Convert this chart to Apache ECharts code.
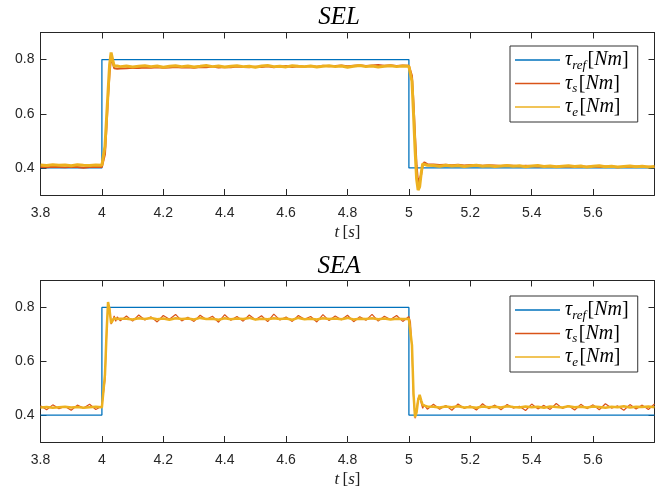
<!DOCTYPE html>
<html>
<head>
<meta charset="utf-8">
<script src="https://cdn.jsdelivr.net/npm/echarts@6/dist/echarts.min.js"></script>
<style>html,body{margin:0;padding:0;background:#fff}#c{width:661px;height:489px}</style>
</head>
<body>
<div id="c"></div>
<script>
// ---- data ----
var titles = ['SEL', 'SEA'];
var seriesNames = ['τref', 'τs', 'τe'];
var xTicks = [3.8, 4.0, 4.2, 4.4, 4.6, 4.8, 5.0, 5.2, 5.4, 5.6];
var yTicks = [0.4, 0.6, 0.8];

var tRef = [3.8, 4.0, 4.0, 5.0, 5.0, 5.8];
var ref = [0.4, 0.4, 0.8, 0.8, 0.4, 0.4];

var t = [3.80,3.82,3.84,3.86,3.88,3.90,3.92,3.94,3.96,3.98,4.00,
  4.005,4.010,4.015,4.020,4.025,4.030,4.035,4.040,4.045,4.050,4.060,
  4.08,4.10,4.12,4.14,4.16,4.18,4.20,4.22,4.24,4.26,
  4.28,4.30,4.32,4.34,4.36,4.38,4.40,4.42,4.44,4.46,
  4.48,4.50,4.52,4.54,4.56,4.58,4.60,4.62,4.64,4.66,
  4.68,4.70,4.72,4.74,4.76,4.78,4.80,4.82,4.84,4.86,
  4.88,4.90,4.92,4.94,4.96,4.98,
  5.00,5.005,5.010,5.015,5.020,5.025,5.030,5.035,5.040,5.045,5.050,5.060,
  5.08,5.10,5.12,5.14,5.16,5.18,5.20,5.22,5.24,5.26,
  5.28,5.30,5.32,5.34,5.36,5.38,5.40,5.42,5.44,5.46,
  5.48,5.50,5.52,5.54,5.56,5.58,5.60,5.62,5.64,5.66,
  5.68,5.70,5.72,5.74,5.76,5.78,5.80];

var selS = [0.403,0.402,0.404,0.403,0.402,0.404,0.403,0.401,0.403,0.404,0.403,
  0.403,0.45,0.55,0.66,0.75,0.805,0.79,0.768,0.764,0.766,0.767,
  0.768,0.770,0.769,0.771,0.770,0.772,0.770,0.771,0.773,0.771,
  0.772,0.770,0.773,0.772,0.774,0.771,0.773,0.772,0.774,0.773,
  0.772,0.774,0.773,0.775,0.772,0.774,0.776,0.773,0.775,0.774,
  0.776,0.774,0.777,0.775,0.776,0.778,0.775,0.777,0.779,0.776,
  0.778,0.780,0.777,0.779,0.776,0.778,
  0.777,0.775,0.74,0.64,0.52,0.41,0.345,0.342,0.375,0.412,0.421,0.414,
  0.413,0.411,0.412,0.410,0.412,0.409,0.411,0.410,0.408,0.410,
  0.409,0.407,0.409,0.408,0.406,0.408,0.407,0.405,0.407,0.406,
  0.404,0.406,0.405,0.403,0.405,0.404,0.406,0.403,0.405,0.404,
  0.402,0.404,0.403,0.405,0.403,0.404,0.402];

var selE = [0.411,0.409,0.412,0.410,0.411,0.408,0.412,0.410,0.409,0.411,0.410,
  0.412,0.48,0.58,0.68,0.78,0.826,0.80,0.776,0.772,0.776,0.774,
  0.776,0.773,0.775,0.777,0.774,0.776,0.772,0.775,0.777,0.774,
  0.776,0.773,0.775,0.778,0.774,0.776,0.773,0.775,0.777,0.774,
  0.775,0.772,0.776,0.778,0.774,0.775,0.773,0.777,0.775,0.774,
  0.776,0.773,0.775,0.777,0.774,0.776,0.772,0.775,0.778,0.774,
  0.776,0.773,0.775,0.777,0.774,0.776,
  0.775,0.772,0.72,0.60,0.47,0.36,0.318,0.33,0.38,0.415,0.418,0.410,
  0.409,0.406,0.410,0.407,0.409,0.405,0.408,0.410,0.406,0.408,
  0.405,0.407,0.409,0.406,0.408,0.404,0.407,0.409,0.405,0.407,
  0.404,0.406,0.408,0.405,0.407,0.403,0.406,0.408,0.404,0.406,
  0.403,0.405,0.407,0.404,0.406,0.403,0.405];

var seaS = [0.435,0.420,0.438,0.424,0.432,0.418,0.437,0.426,0.440,0.421,0.433,
  0.438,0.53,0.69,0.81,0.80,0.738,0.752,0.768,0.748,0.765,0.750,
  0.768,0.749,0.772,0.753,0.765,0.746,0.770,0.756,0.774,0.750,
  0.763,0.748,0.771,0.755,0.767,0.745,0.773,0.752,0.766,0.749,
  0.772,0.754,0.769,0.747,0.775,0.753,0.764,0.748,0.770,0.756,
  0.766,0.746,0.773,0.751,0.768,0.754,0.771,0.747,0.765,0.752,
  0.774,0.749,0.767,0.755,0.770,0.748,
  0.766,0.745,0.64,0.47,0.388,0.42,0.462,0.47,0.445,0.425,0.438,0.422,
  0.440,0.422,0.436,0.418,0.441,0.425,0.434,0.419,0.442,0.424,
  0.437,0.420,0.439,0.426,0.433,0.417,0.441,0.423,0.436,0.421,
  0.443,0.425,0.435,0.419,0.440,0.424,0.438,0.420,0.442,0.426,
  0.434,0.418,0.439,0.423,0.437,0.421,0.441];

var seaE = [0.428,0.430,0.427,0.429,0.431,0.428,0.430,0.427,0.429,0.431,0.429,
  0.432,0.55,0.70,0.82,0.79,0.742,0.748,0.760,0.760,0.757,0.758,
  0.758,0.755,0.760,0.757,0.761,0.756,0.759,0.754,0.760,0.757,
  0.759,0.755,0.761,0.757,0.758,0.754,0.760,0.756,0.759,0.757,
  0.761,0.755,0.758,0.756,0.760,0.757,0.759,0.754,0.761,0.756,
  0.758,0.755,0.760,0.757,0.759,0.756,0.761,0.755,0.758,0.757,
  0.760,0.756,0.759,0.755,0.758,0.757,
  0.757,0.752,0.66,0.48,0.392,0.41,0.455,0.475,0.455,0.437,0.430,0.432,
  0.431,0.428,0.432,0.429,0.433,0.428,0.430,0.427,0.432,0.429,
  0.431,0.428,0.433,0.430,0.428,0.432,0.429,0.431,0.427,0.432,
  0.430,0.428,0.433,0.429,0.431,0.428,0.432,0.430,0.427,0.431,
  0.429,0.433,0.428,0.431,0.430,0.432,0.429];

// ---- chart ----
var colors = ['#0072BD', '#D95319', '#EDB120'];
var AX = '#262626';
function zip(a, b) { return a.map(function (v, i) { return [v, b[i]]; }); }

var grids = [
  { left: 40.5, top: 32.5, width: 614, height: 162.5 },
  { left: 40.5, top: 280.5, width: 614, height: 163 }
];
var xAxes = [], yAxes = [], series = [], legends = [], titleOpts = [];
var plotData = [[selS, selE], [seaS, seaE]];
var titleTops = [0, 249];

var nameRich = {
  i: { fontFamily: 'Liberation Serif', fontStyle: 'italic', fontSize: 17, color: '#222' },
  b: { fontFamily: 'Liberation Serif', fontSize: 17, color: '#222' }
};
var legRich = {
  t: { fontFamily: 'Liberation Serif', fontStyle: 'italic', fontSize: 20, lineHeight: 20, verticalAlign: 'middle', color: '#000' },
  sub: { fontFamily: 'Liberation Serif', fontStyle: 'italic', fontSize: 13, lineHeight: 12, verticalAlign: 'bottom', padding: [0, 1.5, -2, 0], color: '#000' },
  b: { fontFamily: 'Liberation Serif', fontSize: 20, lineHeight: 20, verticalAlign: 'middle', color: '#000' },
  i: { fontFamily: 'Liberation Serif', fontStyle: 'italic', fontSize: 20, lineHeight: 20, verticalAlign: 'middle', color: '#000' }
};
var subs = { 'τref': 'ref', 'τs': 's', 'τe': 'e' };

for (var g = 0; g < 2; g++) {
  var base = {
    gridIndex: g, type: 'value', min: 3.8, max: 5.8,
    splitLine: { show: false },
    axisLine: { show: true, onZero: false, lineStyle: { color: AX, width: 1 } },
    axisTick: { show: true, inside: true, length: 6, lineStyle: { color: AX }, customValues: xTicks }
  };
  xAxes.push(Object.assign({}, base, {
    position: 'bottom',
    axisLabel: { show: true, customValues: xTicks, margin: 11, color: AX, fontSize: 14, fontFamily: 'Liberation Sans',
      formatter: function (v) { return String(Math.round(v * 10) / 10); } },
    name: '{i|t} {b|[}{i|s}{b|]}', nameLocation: 'middle', nameGap: 29,
    nameTextStyle: { rich: nameRich }
  }));
  xAxes.push(Object.assign({}, base, { position: 'top', axisLabel: { show: false } }));
  var ybase = {
    gridIndex: g, type: 'value', min: 0.3, max: 0.9,
    splitLine: { show: false },
    axisLine: { show: true, onZero: false, lineStyle: { color: AX, width: 1 } },
    axisTick: { show: true, inside: true, length: 6, lineStyle: { color: AX }, customValues: yTicks }
  };
  yAxes.push(Object.assign({}, ybase, {
    position: 'left',
    axisLabel: { show: true, customValues: yTicks, margin: 6, color: AX, fontSize: 14, fontFamily: 'Liberation Sans',
      formatter: function (v) { return v.toFixed(1); } }
  }));
  yAxes.push(Object.assign({}, ybase, { position: 'right', axisLabel: { show: false } }));

  var xi = g * 2, yi = g * 2;
  series.push({ name: seriesNames[0], type: 'line', xAxisIndex: xi, yAxisIndex: yi, data: zip(tRef, ref),
    symbol: 'none', lineStyle: { color: colors[0], width: 1.3 }, itemStyle: { color: colors[0] }, z: 2 });
  series.push({ name: seriesNames[1], type: 'line', xAxisIndex: xi, yAxisIndex: yi, data: zip(t, plotData[g][0]),
    symbol: 'none', lineStyle: { color: colors[1], width: g === 0 ? 2 : 1.2 }, itemStyle: { color: colors[1] }, z: 3 });
  series.push({ name: seriesNames[2], type: 'line', xAxisIndex: xi, yAxisIndex: yi, data: zip(t, plotData[g][1]),
    symbol: 'none', lineStyle: { color: colors[2], width: g === 0 ? 3 : 2.5 }, itemStyle: { color: colors[2] }, z: 4 });

  legends.push({
    orient: 'vertical', left: 510, top: g === 0 ? 46 : 296,
    padding: [4, 9, 3, 5], itemGap: 1.5, itemWidth: 45, itemHeight: 1.6, icon: 'rect',
    backgroundColor: '#fff', borderColor: '#333', borderWidth: 1,
    data: seriesNames.map(function (n, k) { return { name: n, itemStyle: { color: colors[k] } }; }),
    formatter: function (n) { return '{t|τ}{sub|' + subs[n] + '}{b|[}{i|Nm}{b|]}'; },
    textStyle: { rich: legRich },
    selectedMode: false
  });
  titleOpts.push({
    text: titles[g], left: 334, textAlign: 'center', top: titleTops[g],
    textStyle: { fontFamily: 'Liberation Serif', fontStyle: 'italic', fontWeight: 'normal', fontSize: 25, color: '#000' }
  });
}

var chart = echarts.init(document.getElementById('c'), null, { renderer: 'canvas' });
chart.setOption({
  animation: false,
  backgroundColor: '#fff',
  title: titleOpts,
  grid: grids,
  xAxis: xAxes,
  yAxis: yAxes,
  legend: legends,
  series: series
});
</script>
</body>
</html>
